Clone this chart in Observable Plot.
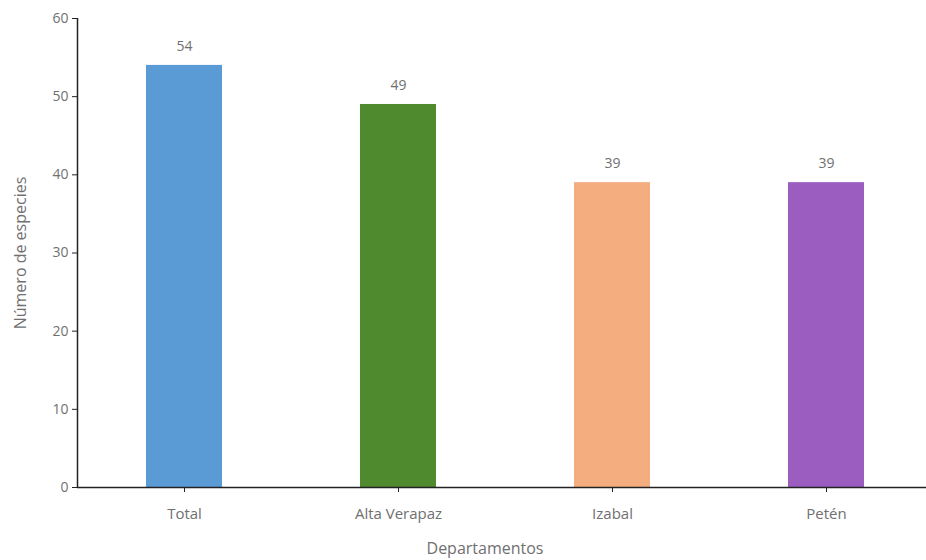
<!DOCTYPE html>
<html>
<head>
<meta charset="utf-8">
<script src="https://cdn.jsdelivr.net/npm/d3@7"></script>
<script src="https://cdn.jsdelivr.net/npm/@observablehq/plot@0.6"></script>
<style>
  html, body { margin: 0; padding: 0; background: #fff; }
  #chart svg { display: block; }
</style>
</head>
<body>
<div id="chart"></div>
<script>
const categories = ["Total", "Alta Verapaz", "Izabal", "Petén"];
const values = [54, 49, 39, 39];
const colors = ["#5b9bd5", "#4f8a2e", "#f4ad7e", "#9b5ec0"];
const yTicks = [0, 10, 20, 30, 40, 50, 60];

const data = categories.map((c, i) => ({ category: c, value: values[i] }));

const font = "'Open Sans', Lato, sans-serif";
const grey = "#707070";

const chart = Plot.plot({
  width: 926,
  height: 560,
  marginLeft: 77,
  marginRight: 0,
  marginTop: 18,
  marginBottom: 73,
  style: { fontFamily: font, fontSize: "14px", color: grey, background: "#fff" },
  x: { domain: categories, range: [77, 933], paddingInner: 0.645, paddingOuter: 0.3225, label: null },
  y: { domain: [0, 60], label: null },
  color: { domain: categories, range: colors },
  marks: [
    Plot.barY(data, { x: "category", y: "value", fill: "category" }),
    Plot.text(data, { x: "category", y: "value", text: d => String(d.value), dy: -19, fill: grey, fontSize: 14 }),
    Plot.ruleY([0], { stroke: "#222", strokeWidth: 1.5 }),
    Plot.ruleX([categories[0]], { x: d => d, dx: -107, y1: 0, y2: 60, stroke: "#222", strokeWidth: 1.5 }),
    Plot.axisY({ ticks: yTicks, tickSize: 5, tickPadding: 4, stroke: "#222", fill: grey, fontSize: 14, label: null }),
    Plot.axisX({ tickSize: 5, tickPadding: 16, stroke: "#222", fill: grey, fontSize: 15, label: null }),
    Plot.text(["Número de especies"], { frameAnchor: "left", textAnchor: "middle", dx: -57, rotate: -90, fill: grey, fontSize: 16 }),
    Plot.text(["Departamentos"], { frameAnchor: "bottom", dy: 66, dx: -17, fill: grey, fontSize: 16 })
  ]
});

document.getElementById("chart").appendChild(chart);
</script>
</body>
</html>
